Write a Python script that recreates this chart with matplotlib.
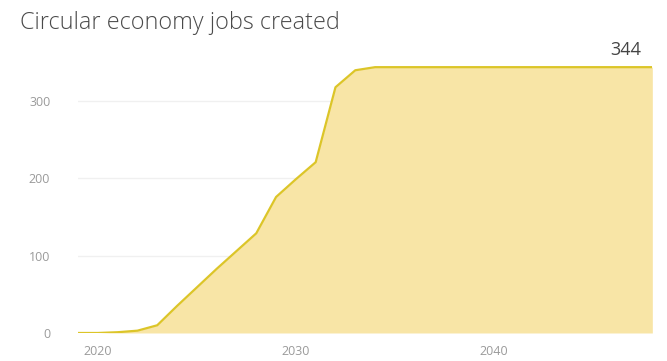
import matplotlib
matplotlib.use('Agg')
import matplotlib.pyplot as plt

# yearly values
years = list(range(2019, 2049))
jobs = [0, 0, 1, 3, 10, 35, 59, 83, 106, 129,
        176, 199, 221, 318, 340, 344, 344, 344, 344, 344,
        344, 344, 344, 344, 344, 344, 344, 344, 344, 344]
y_ticks = [0, 100, 200, 300]
x_ticks = [2020, 2030, 2040]
title = 'Circular economy jobs created'

plt.rcParams['font.family'] = ['Open Sans', 'DejaVu Sans']

fig = plt.figure(figsize=(6.67, 3.61), dpi=100)
ax = fig.add_axes([0.117, 0.0776, 0.861, 0.792])

ax.fill_between(years, jobs, 0, color='#F8E5A6', linewidth=0)
ax.plot(years, jobs, color='#DCC528', linewidth=1.6, solid_joinstyle='round')

ax.set_xlim(years[0], years[-1])
ax.set_ylim(0, 370)
ax.set_yticks(y_ticks)
ax.set_xticks(x_ticks)
ax.grid(axis='y', color='#f0f0f0', linewidth=1)
ax.set_axisbelow(True)
for s in ax.spines.values():
    s.set_visible(False)
ax.tick_params(length=0, labelsize=9, labelcolor='#9a9a9a')
ax.tick_params(axis='y', pad=20)
ax.tick_params(axis='x', pad=9)

fig.text(0.03, 0.935, title, fontsize=16.8, color='#4a4a4a', ha='left', va='center',
         fontweight='light')
ax.annotate(str(jobs[-1]), xy=(years[-1], jobs[-1]), xytext=(-8, 6),
            textcoords='offset points', ha='right', va='bottom',
            fontsize=13, color='#444444')

fig.savefig('out.png', dpi=100)
